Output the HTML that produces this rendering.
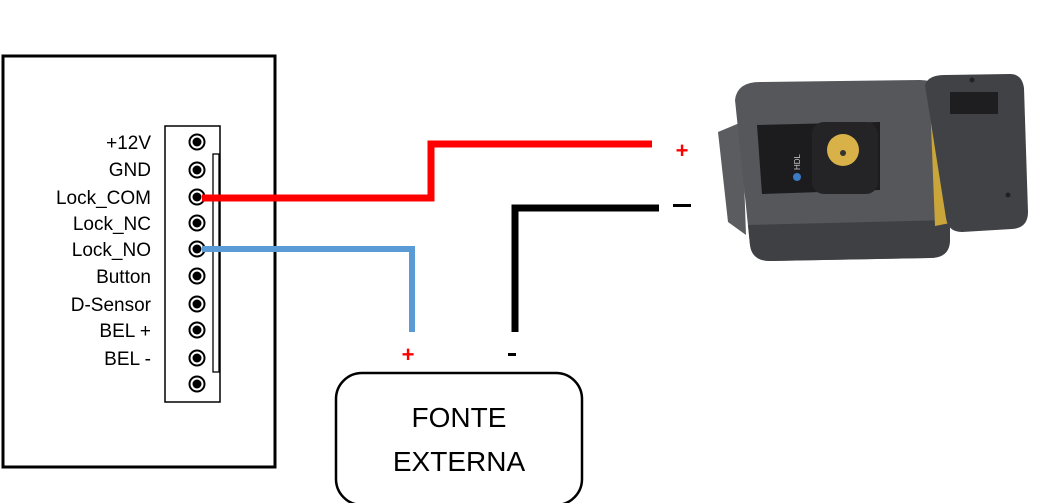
<!DOCTYPE html>
<html><head><meta charset="utf-8"><style>
html,body{margin:0;padding:0;background:#fff;}
body{width:1041px;height:503px;overflow:hidden;position:relative;font-family:"Liberation Sans",sans-serif;}
</style></head><body>
<svg width="1041" height="503" xmlns="http://www.w3.org/2000/svg" style="position:absolute;left:0;top:0">
<rect x="3" y="56" width="272" height="411" fill="none" stroke="#000" stroke-width="3"/>
<rect x="165" y="126" width="55" height="276" fill="#fff" stroke="#000" stroke-width="1.5"/>
<rect x="213" y="154" width="6" height="218" fill="#fff" stroke="#000" stroke-width="1.3"/>
<g fill="#fff" stroke="#000" stroke-width="2">
<circle cx="197" cy="142" r="7.5"/><circle cx="197" cy="170" r="7.5"/><circle cx="197" cy="197" r="7.5"/><circle cx="197" cy="223" r="7.5"/><circle cx="197" cy="249" r="7.5"/><circle cx="197" cy="276" r="7.5"/><circle cx="197" cy="304" r="7.5"/><circle cx="197" cy="330" r="7.5"/><circle cx="197" cy="358" r="7.5"/><circle cx="197" cy="384" r="7.5"/>
</g>
<g fill="#000">
<circle cx="197" cy="142" r="4.5"/><circle cx="197" cy="170" r="4.5"/><circle cx="197" cy="197" r="4.5"/><circle cx="197" cy="223" r="4.5"/><circle cx="197" cy="249" r="4.5"/><circle cx="197" cy="276" r="4.5"/><circle cx="197" cy="304" r="4.5"/><circle cx="197" cy="330" r="4.5"/><circle cx="197" cy="358" r="4.5"/><circle cx="197" cy="384" r="4.5"/>
</g>
<g font-size="19" text-anchor="end" fill="#000">
<text x="151" y="149">+12V</text><text x="151" y="176">GND</text><text x="151" y="204">Lock_COM</text><text x="151" y="230">Lock_NC</text><text x="151" y="256">Lock_NO</text><text x="151" y="283">Button</text><text x="151" y="311">D-Sensor</text><text x="151" y="337">BEL +</text><text x="151" y="365">BEL -</text>
</g>
<polyline points="202,198 431,198 431,144 652,144" fill="none" stroke="#ff0000" stroke-width="7"/>
<polyline points="202,249 412,249 412,332" fill="none" stroke="#5b9bd5" stroke-width="6"/>
<polyline points="659,208 515,208 515,332" fill="none" stroke="#000" stroke-width="7"/>
<text x="682" y="158" font-size="22" font-weight="bold" fill="#ff0000" text-anchor="middle">+</text>
<rect x="673" y="204" width="18" height="3" fill="#000"/>
<text x="408" y="362" font-size="22" font-weight="bold" fill="#ff0000" text-anchor="middle">+</text>
<rect x="508" y="353" width="8" height="3" fill="#000"/>
<rect x="336" y="373" width="246" height="132" rx="26" fill="#fff" stroke="#000" stroke-width="2.5"/>
<text x="459" y="427" font-size="28" text-anchor="middle" fill="#000">FONTE</text>
<text x="459" y="471" font-size="28" text-anchor="middle" fill="#000">EXTERNA</text>
<!-- lock -->
<path d="M718,132 L742,122 L746,235 L728,222 Z" fill="#5a5c60"/>
<path d="M735,100 Q737,82 760,82 L920,80 Q942,80 944,100 L950,238 Q950,258 930,258 L770,261 Q752,261 750,245 Z" fill="#55575b"/>
<path d="M748,225 L950,220 L950,240 Q950,258 930,258 L770,261 Q752,261 750,245 Z" fill="#3e4044"/>
<path d="M930,100 L955,94 L955,222 L935,226 Z" fill="#c9a53a"/>
<path d="M925,85 Q928,75 945,75 L1010,74 Q1022,74 1024,88 L1028,212 Q1028,228 1012,229 L962,232 Q948,232 946,218 Z" fill="#404246"/>
<rect x="950" y="92" width="48" height="22" fill="#1e1e20"/>
<circle cx="972" cy="80" r="2.5" fill="#222"/><circle cx="1008" cy="195" r="2.5" fill="#222"/>
<path d="M757,125 L880,122 L880,190 L762,194 Z" fill="#1c1c1e"/>
<rect x="812" y="122" width="66" height="72" rx="12" fill="#242426"/>
<circle cx="843" cy="150" r="16" fill="#d8b248"/>
<circle cx="843" cy="153" r="3" fill="#333"/>
<text x="800" y="170" font-size="8" fill="#ccc" transform="rotate(-90 800 170)">HDL</text>
<circle cx="797" cy="177" r="4" fill="#3a7bc4"/>
</svg>
</body></html>
